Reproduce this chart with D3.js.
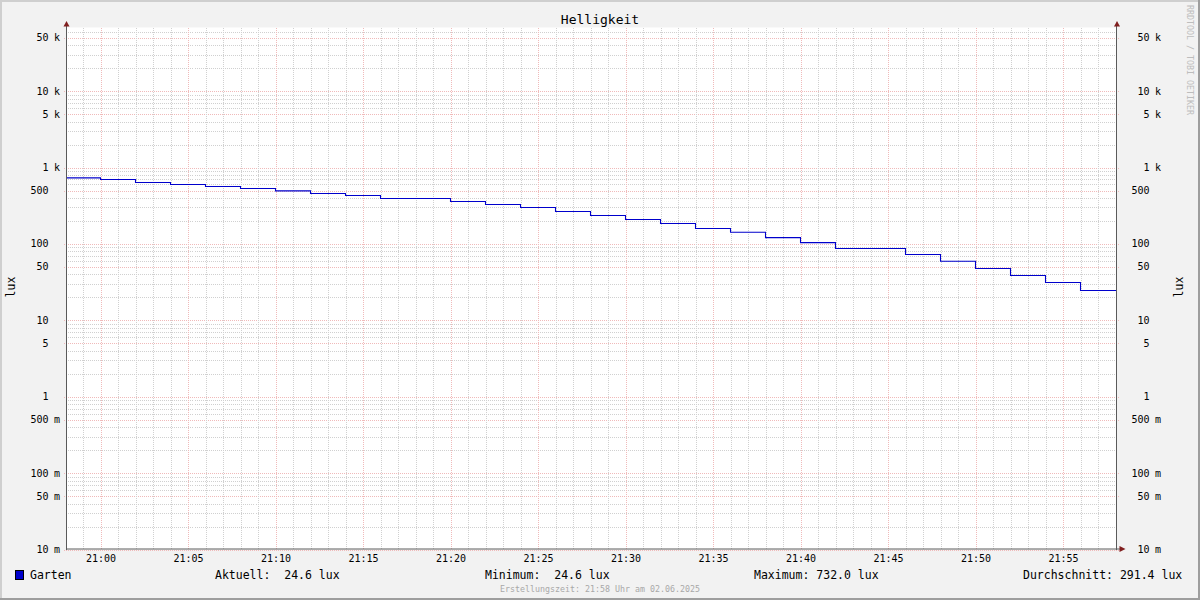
<!DOCTYPE html>
<html><head><meta charset="utf-8">
<script src="https://cdn.jsdelivr.net/npm/d3@7"></script>
<style>
html,body{margin:0;padding:0;background:#f2f2f2;}
svg{display:block;}
text{font-family:"DejaVu Sans Mono",monospace;}
</style>
</head><body>
<svg id="chart" width="1200" height="600"></svg>
<script>
// ---------------- data ----------------
const title = "Helligkeit";
const unitLabel = "lux";
const seriesName = "Garten";
const stepStarts = ["20:58","21:00","21:02","21:04","21:06","21:08","21:10","21:12","21:14","21:16",
                    "21:18","21:20","21:22","21:24","21:26","21:28","21:30","21:32","21:34","21:36",
                    "21:38","21:40","21:42","21:44","21:46","21:48","21:50","21:52","21:54","21:56"];
const values = [732,697,636,599,564,531,494,457,430,393,
                393,359,328,299,265,235,209,185,159,142,
                121,104,87,87,72.6,59.4,47.6,38.6,31.2,24.6];
const yTickValues  = [50000,10000,5000,1000,500,100,50,10,5,1,0.5,0.1,0.05,0.01];
const yTickNumbers = ["50","10","5","1","500","100","50","10","5","1","500","100","50","10"];
const yTickUnits   = ["k","k","k","k","","","","","","","m","m","m","m"];
const xTickLabels  = ["21:00","21:05","21:10","21:15","21:20","21:25","21:30","21:35","21:40","21:45","21:50","21:55"];
const statLabels = ["Aktuell:","Minimum:","Maximum:","Durchschnitt:"];
const statValues = [24.6, 24.6, 732.0, 291.4];
const footer = "Erstellungszeit: 21:58 Uhr am 02.06.2025";
const watermark = "RRDTOOL / TOBI OETIKER";

// ---------------- layout ----------------
const W = 1200, H = 600;
const L = 66.5, R = 1116.5, T = 27.5, B = 549.5;
const svg = d3.select("#chart");
const day = (hm, s=0, ms=0) => { const [h,m] = hm.split(":").map(Number); return new Date(2025,5,2,h,m,s,ms); };
const tStart = day("20:58",3,400);
const tEnd = new Date(tStart.getTime() + 3600*1000);

const x = d3.scaleTime().domain([tStart, tEnd]).range([L, R]);
const y = d3.scaleLog().domain([0.01, 68000]).range([B, T]);

// background + shades
svg.append("rect").attr("width",W).attr("height",H).attr("fill","#f2f2f2");
svg.append("path").attr("d",`M0,0H${W}V2H2V${H}H0Z`).attr("fill","#cfcfcf");
svg.append("path").attr("d",`M${W},${H}H0V${H-2}H${W-2}V0H${W}Z`).attr("fill","#9e9e9e");
svg.append("rect").attr("x",L).attr("y",T).attr("width",R-L).attr("height",B-T).attr("fill","#ffffff");

const minorCol = "#d0d0d0";
const majorCol = "#f0baba";

// horizontal grid
const decades = d3.range(-2, 5);
const minorY = [];
decades.forEach(e => { for (let k=2;k<=9;k++){ if(k!==5){ const v=k*Math.pow(10,e); if (v<=68000) minorY.push(v);} } });
const gy = svg.append("g").attr("shape-rendering","crispEdges");
gy.selectAll("line.minor").data(minorY).enter().append("line")
  .attr("x1",L-1).attr("x2",R+1)
  .attr("y1",d=>Math.round(y(d))+0.5).attr("y2",d=>Math.round(y(d))+0.5)
  .attr("stroke",minorCol).attr("stroke-dasharray","1,1");
gy.selectAll("line.major").data(yTickValues).enter().append("line")
  .attr("x1",L-3).attr("x2",R+3)
  .attr("y1",d=>Math.round(y(d))+0.5).attr("y2",d=>Math.round(y(d))+0.5)
  .attr("stroke",majorCol).attr("stroke-dasharray","1,1");

// vertical grid
const minutes = d3.timeMinute.range(d3.timeMinute.ceil(tStart), tEnd);
const gx = svg.append("g").attr("shape-rendering","crispEdges");
gx.selectAll("line").data(minutes).enter().append("line")
  .attr("x1",d=>Math.round(x(d))+0.5).attr("x2",d=>Math.round(x(d))+0.5)
  .attr("y1",T).attr("y2",B)
  .attr("stroke",d=>d.getMinutes()%5===0?majorCol:minorCol)
  .attr("stroke-dasharray","1,1");

// series line (step)
const pts = stepStarts.map((s,i)=>({t:day(s), v:values[i]}));
pts.push({t:tEnd, v:values[values.length-1]});
const line = d3.line().x(d=>x(d.t)).y(d=>y(d.v)).curve(d3.curveStepAfter);
svg.append("defs").append("clipPath").attr("id","clip")
  .append("rect").attr("x",L).attr("y",T).attr("width",R-L).attr("height",B-T);
svg.append("path").datum(pts).attr("d",line).attr("clip-path","url(#clip)")
  .attr("fill","none").attr("stroke","#0000cc").attr("stroke-width",1.1);

// axes
const axisCol = "#5a5a5a";
svg.append("line").attr("x1",L).attr("x2",L).attr("y1",24).attr("y2",B+0.5).attr("stroke",axisCol);
svg.append("line").attr("x1",R).attr("x2",R).attr("y1",24).attr("y2",B+0.5).attr("stroke",axisCol);
svg.append("line").attr("x1",L-0.5).attr("x2",1121).attr("y1",B-0.5).attr("y2",B-0.5).attr("stroke",axisCol);
const arrowCol = "#801f1f";
svg.append("path").attr("d",`M${L},21L${L-3},26.5L${L+3},26.5Z`).attr("fill",arrowCol);
svg.append("path").attr("d",`M${R+0.5},21L${R-2.5},26.5L${R+3.5},26.5Z`).attr("fill",arrowCol);
svg.append("path").attr("d",`M1125.5,${B-0.5}L1119.5,${B-3.5}L1119.5,${B+2.5}Z`).attr("fill",arrowCol);

// y tick labels (left + right)
const yl = svg.append("g").attr("font-size","10px").attr("fill","#000");
yTickValues.forEach((v,i)=>{
  const yy = y(v)+3.5;
  yl.append("text").attr("x",48.5).attr("y",yy).attr("text-anchor","end").text(yTickNumbers[i]);
  if (yTickUnits[i]) yl.append("text").attr("x",54).attr("y",yy).text(yTickUnits[i]);
  yl.append("text").attr("x",1149.5).attr("y",yy).attr("text-anchor","end").text(yTickNumbers[i]);
  if (yTickUnits[i]) yl.append("text").attr("x",1155).attr("y",yy).text(yTickUnits[i]);
});

// x tick labels
const xl = svg.append("g").attr("font-size","10px").attr("fill","#000");
xTickLabels.forEach(s=>{
  xl.append("text").attr("x",x(day(s))+0.5).attr("y",562).attr("text-anchor","middle").text(s);
});

// title
svg.append("text").attr("x",600).attr("y",24).attr("text-anchor","middle")
  .attr("font-size","13px").attr("fill","#000").text(title);

// y-axis titles
svg.append("text").attr("transform","translate(15,287) rotate(-90)").attr("text-anchor","middle")
  .attr("font-size","11.5px").attr("fill","#000").text(unitLabel);
svg.append("text").attr("transform","translate(1183,287) rotate(-90)").attr("text-anchor","middle")
  .attr("font-size","11.5px").attr("fill","#000").text(unitLabel);

// watermark
svg.append("text").attr("transform","translate(1187,5) rotate(90)")
  .attr("font-size","8.3px").attr("fill","#bdbdbd").text(watermark);

// legend
svg.append("rect").attr("x",15.5).attr("y",570.5).attr("width",8).attr("height",9)
  .attr("fill","#0000cc").attr("stroke","#000");
svg.append("text").attr("x",30).attr("y",579).attr("font-size","11.5px").attr("fill","#000").text(seriesName);
const statX = [215, 485, 754, 1023];
statLabels.forEach((lab,i)=>{
  const str = lab + statValues[i].toFixed(1).padStart(6," ") + " " + unitLabel;
  svg.append("text").attr("x",statX[i]).attr("y",579).attr("font-size","11.5px").attr("fill","#000")
    .attr("xml:space","preserve").style("white-space","pre").text(str);
});

// footer
svg.append("text").attr("x",600).attr("y",592).attr("text-anchor","middle")
  .attr("font-size","8.3px").attr("fill","#a8a8a8").text(footer);
</script>
</body></html>
